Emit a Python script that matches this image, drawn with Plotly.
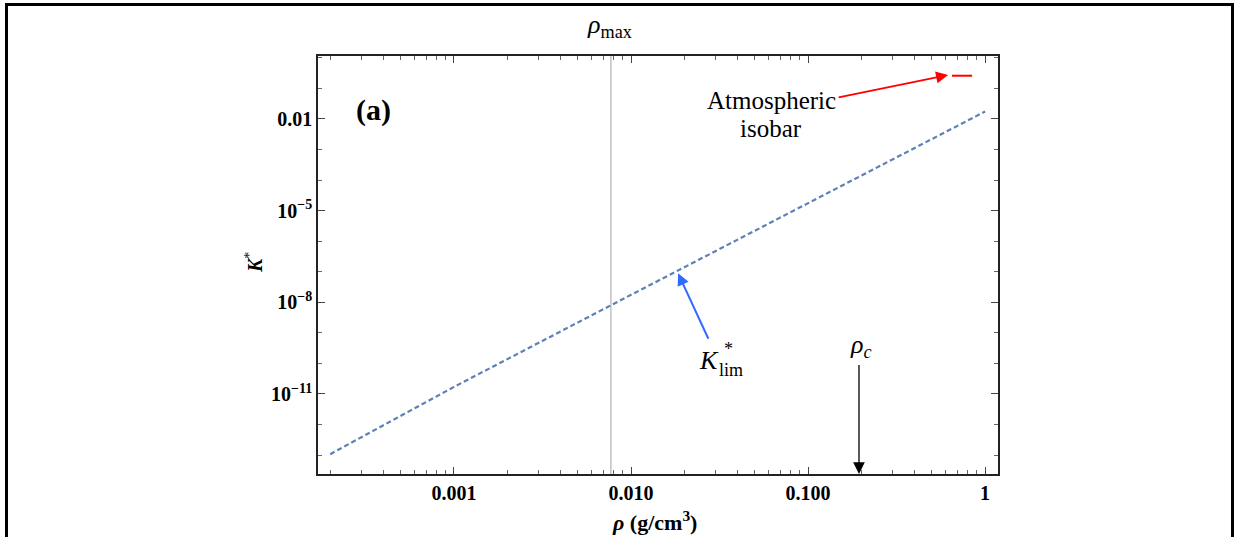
import numpy as np
import plotly.graph_objects as go

# ---- data ----
rho = [0.0002, 0.001, 0.01, 0.1, 1.0]          # g/cm^3
k_lim = [1.07e-13, 1.7e-11, 1.75e-8, 1.75e-5, 1.75e-2]
rho_max = 0.0077
rho_c = 0.194
isobar_rho = [0.65, 0.845]
isobar_k = [0.26, 0.26]

x_tickvals = [0.001, 0.01, 0.1, 1]
x_ticktext = ["0.001", "0.010", "0.100", "1"]
y_tickvals = [1e-2, 1e-5, 1e-8, 1e-11]
y_ticktext = ["0.01", "10<sup>\u22125</sup>", "10<sup>\u22128</sup>", "10<sup>\u221211</sup>"]

x_minor = [m * 10.0 ** e for e in range(-4, 1) for m in range(1, 10)]
y_minor = [10.0 ** e for e in range(-14, 1)]

SERIF = "'Liberation Serif', 'Times New Roman', 'DejaVu Serif', serif"
L, R, T, B = 318, 998, 56, 474
W, H = 1237, 537

def px(x):
    return (x - L) / (R - L)

def py(y):
    return (B - y) / (B - T)

fig = go.Figure()

fig.add_trace(go.Scatter(
    x=rho, y=k_lim, mode="lines",
    line=dict(color="#5E81B5", width=2.2, dash="5px,3px"),
    showlegend=False, hoverinfo="skip"))

fig.add_trace(go.Scatter(
    x=isobar_rho, y=isobar_k, mode="lines",
    line=dict(color="#FF0000", width=2),
    showlegend=False, hoverinfo="skip"))

# rho_max vertical line
fig.add_shape(type="line", xref="x", yref="paper", x0=rho_max, x1=rho_max,
              y0=0, y1=1, line=dict(color="#8c8c8c", width=0.8))

# outer frame
fig.add_shape(type="rect", xref="paper", yref="paper",
              x0=px(6.5), x1=px(1232.5), y0=py(560), y1=py(4.5),
              line=dict(color="black", width=3), fillcolor="rgba(0,0,0,0)")

ann = []
lx = np.log10
# red arrow to the atmospheric isobar
ann.append(dict(x=lx(0.618), y=lx(0.274), ax=lx(0.146), ay=lx(0.0497),
                xref="x", yref="y", axref="x", ayref="y", text="",
                showarrow=True, arrowhead=2, arrowsize=1.2, arrowwidth=2, arrowcolor="#FF0000"))
# blue arrow to K*_lim
ann.append(dict(x=lx(0.01845), y=lx(8.9e-8), ax=lx(0.0276), ay=lx(5.7e-10),
                xref="x", yref="y", axref="x", ayref="y", text="",
                showarrow=True, arrowhead=2, arrowsize=1.2, arrowwidth=2, arrowcolor="#2F6BFF"))
# rho_c arrow
ann.append(dict(x=lx(rho_c), y=-13.62, ax=lx(rho_c), ay=-10.0,
                xref="x", yref="y", axref="x", ayref="y", text="",
                showarrow=True, arrowhead=2, arrowsize=1.8, arrowwidth=1.3, arrowcolor="black"))

def txt(x, y, s, size, **kw):
    d = dict(x=px(x), y=py(y), xref="paper", yref="paper", text=s, showarrow=False,
             font=dict(family=SERIF, size=size, color="black"),
             xanchor="center", yanchor="middle")
    d.update(kw)
    return d

ann.append(txt(373, 110, "<b>(a)</b>", 30))
ann.append(txt(771, 100, "Atmospheric", 25))
ann.append(txt(771, 128, "isobar", 25))
ann.append(txt(609, 26, "<i>\u03c1</i><sub>max</sub>", 26))
ann.append(txt(861, 346, "<i>\u03c1</i><sub><i>c</i></sub>", 26))
ann.append(txt(709, 360, "<i>K</i>", 26))
ann.append(txt(728, 349, "*", 18))
ann.append(txt(731, 370, "lim", 18))
ann.append(txt(254, 263, "<b><i>K</i></b><sup>*</sup>", 20, textangle=-90))
ann.append(txt(654, 521, "<b><i>\u03c1</i> (g/cm<sup>3</sup>)</b>", 22))

fig.update_layout(
    width=W, height=H,
    margin=dict(l=L, r=W - R, t=T, b=H - B),
    paper_bgcolor="white", plot_bgcolor="white",
    annotations=ann,
    font=dict(family=SERIF, color="black"),
)

fig.update_xaxes(
    type="log", range=[lx(0.0001) + 0.232, 0.073],
    tickmode="array", tickvals=x_tickvals, ticktext=x_ticktext,
    tickfont=dict(family=SERIF, size=20, weight="bold", color="black"),
    ticks="inside", ticklen=7, tickwidth=1, tickcolor="#444",
    minor=dict(tickvals=x_minor, ticks="inside", ticklen=4, tickcolor="#666", tickwidth=1),
    showline=True, linecolor="#222", linewidth=1.6, mirror="ticks",
    showgrid=False, zeroline=False,
)
fig.update_yaxes(
    type="log", range=[-13.62, 0.06],
    tickmode="array", tickvals=y_tickvals, ticktext=y_ticktext,
    tickfont=dict(family=SERIF, size=20, weight="bold", color="black"),
    ticks="inside", ticklen=7, tickwidth=1, tickcolor="#444",
    minor=dict(tickvals=y_minor, ticks="inside", ticklen=4, tickcolor="#666", tickwidth=1),
    showline=True, linecolor="#222", linewidth=1.6, mirror="ticks",
    showgrid=False, zeroline=False,
)

fig.write_html("out.html")
